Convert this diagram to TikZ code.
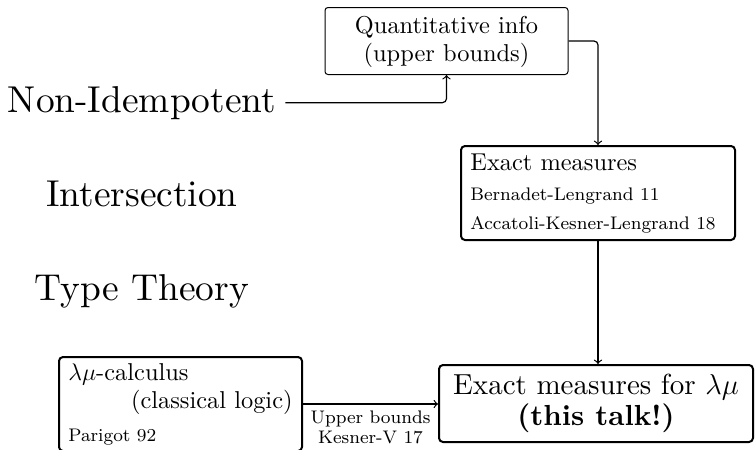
\documentclass[tikz,border=0pt]{standalone}
\usepackage{fontspec}
\setmainfont{lmroman10-regular.otf}[BoldFont=lmroman10-bold.otf]
\newfontfamily\refrm{lmroman8-regular.otf}
\begin{document}
\begin{tikzpicture}[x=0.5pt,y=-0.5pt,
  bigword/.style={font=\fontsize{18.7}{22}\selectfont, inner sep=0pt, anchor=base},
  thinbox/.style={draw, line width=0.5pt, rounded corners=1.5pt, inner sep=0pt},
  thickbox/.style={draw, line width=1pt, rounded corners=2pt, inner sep=0pt},
  conn/.style={->, line width=0.6pt, rounded corners=2pt},
  txt/.style={inner sep=0pt},
  refsize/.style={font=\refrm\fontsize{9.1}{10}\selectfont},
  midsize/.style={font=\fontsize{12.2}{14}\selectfont},
  talksize/.style={font=\fontsize{14.5}{17}\selectfont},
  talkbold/.style={font=\fontsize{14.5}{17}\selectfont\bfseries},
]
\useasboundingbox (0,0) rectangle (756,450);
\clip (0,0) rectangle (756,450);

% left column title
\node[bigword, inner xsep=4.5pt] (nonid) at (142,112) {Non-Idempotent};
\node[bigword] (inter) at (142,206) {Intersection};
\node[bigword] (ttheory) at (142,300) {Type Theory};

% boxes
\node[thinbox, minimum width=121.5pt, minimum height=33.5pt] (quant) at (446.5,41) {};
\node[thickbox, minimum width=137pt, minimum height=47pt] (exm) at (598,193) {};
\node[thickbox, minimum width=157pt, minimum height=38.5pt] (exl) at (596,403.5) {};
\node[thickbox, minimum width=121.5pt, minimum height=47pt] (lmu) at (180.5,404) {};

% box contents
\node[txt, anchor=base, midsize] (q1) at (446.5,33) {Quantitative info};
\node[txt, anchor=base, midsize] (q2) at (446.5,61) {(upper bounds)};

\node[txt, anchor=base west, midsize] (e1) at (470,170) {Exact measures};
\node[txt, anchor=base west, refsize] (e2) at (470,200) {Bernadet-Lengrand 11};
\node[txt, anchor=base west, refsize] (e3) at (470,229) {Accatoli-Kesner-Lengrand 18};

\node[txt, anchor=base, talksize] (x1) at (596,394) {Exact measures for $\lambda\mu$};
\node[txt, anchor=base, talkbold] (x2) at (596,425) {(this talk!)};

\node[txt, anchor=base west, midsize] (l1) at (68,380) {$\lambda\mu$-calculus};
\node[txt, anchor=base east, midsize] (l2) at (293,408) {(classical logic)};
\node[txt, anchor=base west, refsize] (l3) at (68,441) {Parigot 92};

% connectors
\draw[conn] (nonid.east) -| (quant.south);
\draw[conn] (quant.east) -| (exm.north);
\draw[conn] (exm.south) -- (exm.south |- exl.north);
\draw[conn] (lmu.east) -- (lmu.east -| exl.west)
  node[midway, below, align=center, refsize, inner sep=3.2pt] (ub) {Upper bounds\\Kesner-V 17};
\end{tikzpicture}
\end{document}
